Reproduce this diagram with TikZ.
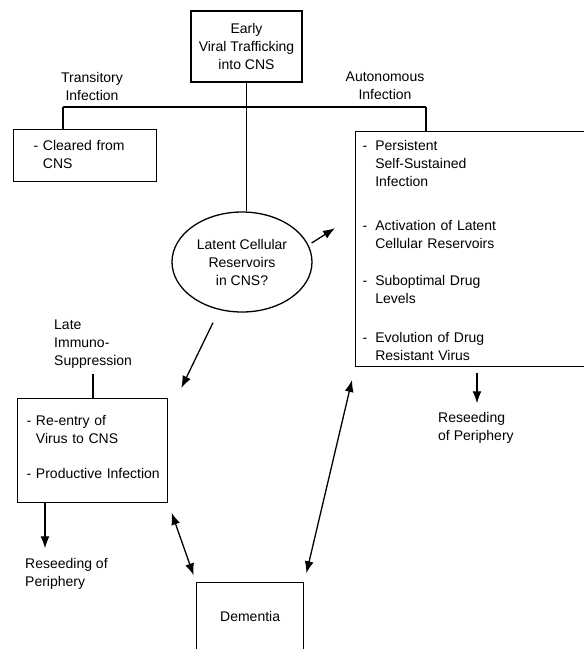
\documentclass[tikz,border=0pt]{standalone}
\usepackage{fontspec}
\setmainfont{Liberation Sans}
\usetikzlibrary{calc,positioning,shapes.geometric,arrows.meta}
\tikzset{
   box/.style={ rectangle, draw=black, line width=1.3pt, inner sep=0pt},
   list box/.style={ box, anchor=north west, align=left},
   reservoir/.style={ ellipse, draw=black, line width=1.3pt, inner sep=0pt, minimum width=140pt, minimum height=100pt, align=center},
   tag/.style={ inner sep=1pt},
   link/.style={ line width=1.3pt},
   >={Latex[length=12pt,width=9pt]}
}
\newcommand{\txt}{\fontsize{14}{18}\selectfont}

\begin{document}
\begin{tikzpicture}[x=1pt,y=-1pt,font=\txt]
  \useasboundingbox (0,0) rectangle (584,649);
  \clip (0,0) rectangle (584,649);

  \node[box, minimum width=111pt, minimum height=71pt, align=center] at (246.5,46.5) (early) {Early\\Viral Trafficking\\into CNS};

  \node[tag, align=center] at (92,86)  (transitory) {Transitory\\Infection};
  \node[tag, align=center] at (385,86) (autonomous) {Autonomous\\Infection};

  \node[list box, minimum width=143pt, minimum height=52pt, inner xsep=20pt, text width=103pt] at (13,129) (cleared)
    {\begin{tabular}{@{}l@{ }l@{}}-&Cleared from\\&CNS\end{tabular}};

  \node[list box, minimum width=250pt, minimum height=235pt, inner xsep=7pt, text width=236pt] at (355,131) (persistent)
    {\begin{tabular}{@{}l@{\hspace{8pt}}l@{}}
      -&\rule{0pt}{19pt}Persistent\\&Self-Sustained\\&Infection\\[26pt]
      -&Activation of Latent\\&Cellular Reservoirs\\[19pt]
      -&Suboptimal Drug\\&Levels\\[21pt]
      -&Evolution of Drug\\&Resistant Virus
    \end{tabular}};

  \node[reservoir] at (242,262) (latent) {Latent Cellular\\Reservoirs\\in CNS?};

  \node[tag, anchor=west, align=left] at (53,344) (late) {Late\\Immuno-\\Suppression};

  \node[list box, minimum width=150pt, minimum height=104pt, inner xsep=9pt, text width=132pt] at (17,398) (reentry)
    {\begin{tabular}{@{}l@{ }l@{}}-&Re-entry of\\&Virus to CNS\\[17pt]-&Productive Infection\\[4pt]\end{tabular}};

  \node[tag, anchor=west, align=left] at (24,574)    (reseed left)  {Reseeding of\\Periphery};
  \node[tag, anchor=west, align=left] at (437,427.5) (reseed right) {Reseeding\\of Periphery};

  \node[box, anchor=north west, minimum width=107pt, minimum height=68pt] at (196,582) (dementia) {Dementia};

  %% split below the first box
  \coordinate (left drop)  at (63,107);
  \coordinate (right drop) at (426,107);

  \draw[link] (early.south) -- (early.south |- latent.north);
  \draw[link] (left drop) -- (right drop);
  \draw[link] (left drop) -- (left drop |- cleared.north);
  \draw[link] (right drop) -- (right drop |- persistent.north);
  \draw[link,shorten <=5pt] (late.south) -- (late.south |- reentry.north);

  \draw[link,->] ($(latent.east)+(-1,-19)$) -- ($(persistent.west)+(-20,-21)$);
  \draw[link,->] ($(latent.south)+(-29,10)$) -- ($(reentry.north east)+(13,-10)$);

  \draw[link,->] ($(reentry.south west)+(28,0)$) -- ($(reentry.south west)+(28,45)$);
  \draw[link,->] ($(persistent.south west)+(122,6)$) -- ($(persistent.south west)+(122,36)$);

  \draw[link,<->,shorten <=10pt,shorten >=7pt] (reentry.south east) -- (dementia.north west);
  \draw[link,<->,shorten <=13pt,shorten >=9pt] (persistent.south west) -- (dementia.north east);

\end{tikzpicture}
\end{document}
